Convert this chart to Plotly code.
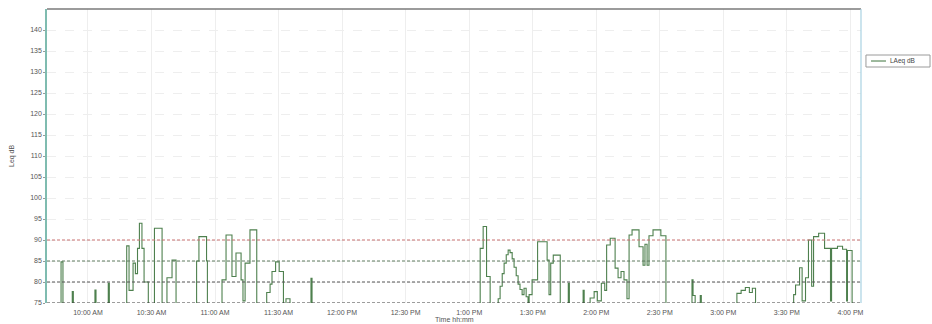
import plotly.graph_objects as go

# Sound level log, one day of measurements (step data, value holds until next reading)
DAY = "2024-05-14"
FLOOR = 74.0  # readings below the displayed range

times = [
    "09:40:40",
    "09:47:18", "09:48:12",
    "09:52:36", "09:53:06",
    "10:03:18", "10:03:48",
    "10:09:36", "10:10:06",
    "10:18:18", "10:19:24", "10:21:18", "10:22:24", "10:23:24", "10:24:18",
    "10:25:30", "10:26:30", "10:28:30",
    "10:31:24", "10:35:00", "10:37:18", "10:39:42", "10:41:36",
    "10:51:18", "10:52:24", "10:56:00", "10:56:24",
    "11:03:18", "11:05:12", "11:08:00", "11:09:54", "11:12:18", "11:13:12",
    "11:14:12", "11:16:30", "11:19:42",
    "11:24:24", "11:26:00", "11:26:54", "11:28:36", "11:30:18", "11:32:18",
    "11:33:30", "11:35:24",
    "11:45:18", "11:45:48",
    "13:05:12", "13:06:36", "13:08:12", "13:09:54",
    "13:13:42", "13:14:36", "13:15:36", "13:16:30", "13:17:30", "13:18:24",
    "13:19:18", "13:20:18", "13:21:12", "13:22:12", "13:23:06", "13:24:00",
    "13:25:00", "13:25:54", "13:26:54", "13:27:48",
    "13:28:18", "13:29:42", "13:32:18", "13:36:48", "13:37:42", "13:38:30",
    "13:39:42", "13:43:00",
    "13:46:48", "13:47:18",
    "13:53:48", "13:54:18",
    "13:57:06", "13:59:00", "14:00:30", "14:02:24", "14:04:00", "14:04:54",
    "14:06:36", "14:08:54", "14:10:18", "14:11:42", "14:13:06", "14:14:30",
    "14:15:30", "14:16:54", "14:20:12", "14:22:06", "14:23:00", "14:24:00",
    "14:24:54", "14:26:48", "14:30:30", "14:32:54",
    "14:45:12", "14:45:42", "14:46:42",
    "14:49:06", "14:49:36",
    "15:06:24", "15:08:24", "15:10:24", "15:12:18", "15:13:42", "15:15:12",
    "15:33:12", "15:34:06", "15:36:00", "15:37:12", "15:38:48", "15:40:12",
    "15:41:42", "15:42:36", "15:45:00", "15:47:48", "15:50:36", "15:51:06",
    "15:53:54", "15:56:18", "15:58:12", "15:58:36", "16:00:48",
    "16:05:00",
]

laeq_db = [
    FLOOR,
    84.8, FLOOR,
    77.7, FLOOR,
    78.1, FLOOR,
    79.7, FLOOR,
    88.6, 78.0, 84.5, 82.0, 88.0, 94.0,
    88.0, 80.0, FLOOR,
    92.8, FLOOR, 81.0, 85.2, FLOOR,
    85.0, 90.8, 85.0, FLOOR,
    80.5, 91.2, 81.3, 86.9, 80.5, 75.5,
    84.5, 92.4, FLOOR,
    77.5, 79.5, 82.5, 84.8, 82.5, FLOOR,
    76.0, FLOOR,
    80.9, FLOOR,
    88.0, 93.2, 81.3, FLOOR,
    76.0, 79.0, 82.0, 84.5, 86.5, 87.6,
    87.0, 85.5, 83.5, 81.5, 79.5, 78.2,
    77.0, 78.5, 76.5, FLOOR,
    77.0, 80.5, 89.6, 85.2, 77.0, 84.5,
    86.4, FLOOR,
    79.7, FLOOR,
    78.0, FLOOR,
    76.2, 77.7, 75.5, 79.7, 78.0, 88.8,
    90.4, 83.3, 81.0, 82.5, 80.5, 76.0,
    91.2, 92.4, 88.4, 84.0, 89.0, 84.0,
    91.0, 92.4, 91.0, FLOOR,
    80.5, 76.8, FLOOR,
    76.8, FLOOR,
    77.3, 78.0, 78.7, 77.5, 78.5, FLOOR,
    77.0, 79.3, 83.4, 75.5, 81.0, 90.0,
    79.0, 90.8, 91.6, 88.0, 75.5, 88.0,
    88.5, 87.8, 75.5, 87.5, FLOOR,
    FLOOR,
]

series_name = "LAeq dB"
y_ticks = list(range(75, 145, 5))
y_range = [75, 145]
x_start, x_end = "09:40:40", "16:05:00"

# Reference levels drawn as dotted horizontal lines
ref_levels = [75, 80, 85, 90]
ref_colors = ["#3a3a3a", "#555555", "#5f7a5f", "#c87070"]

FONT = "Liberation Sans, Arial, sans-serif"
TXT = "#555555"
LINE_COLOR = "#4e804e"

x_vals = [f"{DAY} {t}" for t in times]

fig = go.Figure()
fig.add_trace(go.Scatter(
    x=x_vals, y=laeq_db,
    mode="lines",
    line=dict(shape="hv", color=LINE_COLOR, width=1.1),
    name=series_name,
    showlegend=False,
))

shapes = []
for lvl, col in zip(ref_levels, ref_colors):
    shapes.append(dict(type="line", xref="paper", yref="y", x0=0, x1=1, y0=lvl, y1=lvl,
                       line=dict(color=col, width=1, dash="3px,2px"), layer="above"))
# frame: top and right borders
shapes.append(dict(type="line", xref="paper", yref="paper", x0=0, x1=1, y0=1, y1=1,
                   line=dict(color="#7a7a7a", width=1.5)))
shapes.append(dict(type="line", xref="paper", yref="paper", x0=1, x1=1, y0=0, y1=1,
                   line=dict(color="#a9d2e2", width=1.2)))

# compact legend box to the right of the plot
shapes.append(dict(type="rect", xref="paper", yref="paper",
                   x0=1.0061, x1=1.0848, y0=0.8027, y1=0.8435,
                   line=dict(color="#9a9a9a", width=1), fillcolor="white"))
shapes.append(dict(type="line", xref="paper", yref="paper",
                   x0=1.0123, x1=1.0307, y0=0.8231, y1=0.8231,
                   line=dict(color=LINE_COLOR, width=1.1)))

annotations = [
    dict(text="Time hh:mm", xref="paper", yref="paper", x=0.5, y=0, yshift=-16,
         xanchor="center", yanchor="middle", showarrow=False,
         font=dict(size=7, color=TXT)),
    dict(text="Leq dB", xref="paper", yref="paper", x=0, xshift=-35, y=0.5,
         textangle=-90, xanchor="center", yanchor="middle", showarrow=False,
         font=dict(size=7, color=TXT)),
    dict(text=series_name, xref="paper", yref="paper", x=1.0336, y=0.8231,
         xanchor="left", yanchor="middle", showarrow=False,
         font=dict(size=6.5, color="#444444")),
]

fig.update_layout(
    width=932, height=324,
    margin=dict(l=47, r=71, t=9, b=21, autoexpand=False),
    paper_bgcolor="white", plot_bgcolor="white",
    font=dict(family=FONT, size=7, color=TXT),
    shapes=shapes,
    annotations=annotations,
    showlegend=False,
    xaxis=dict(
        type="date",
        range=[f"{DAY} {x_start}", f"{DAY} {x_end}"],
        dtick=30 * 60 * 1000,
        tick0=f"{DAY} 10:00:00",
        tickformat="%-I:%M %p",
        showgrid=True, gridcolor="#eeeeee", gridwidth=1,
        showline=False, zeroline=False,
        ticks="outside", ticklen=3, tickcolor="rgba(0,0,0,0)",
        tickfont=dict(size=7, color=TXT),
    ),
    yaxis=dict(
        range=y_range,
        tickvals=y_ticks,
        showgrid=True, gridcolor="#eeeeee", griddash="dash", gridwidth=1,
        showline=True, linecolor="#7fbcb0", linewidth=1.5,
        zeroline=False,
        ticks="outside", ticklen=2, tickcolor="#999999",
        tickfont=dict(size=7, color=TXT),
    ),
)

fig.write_html("out.html")
